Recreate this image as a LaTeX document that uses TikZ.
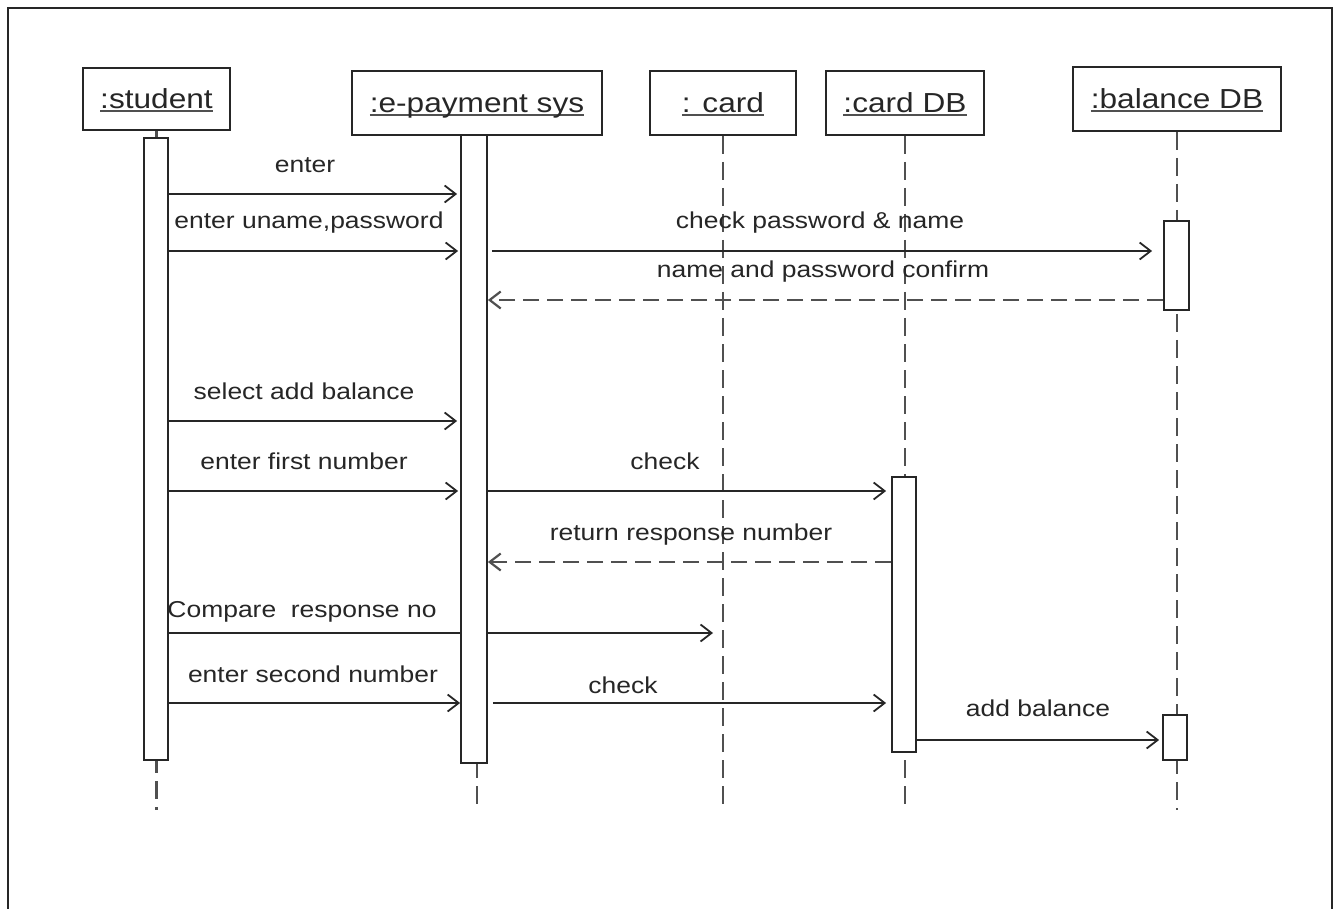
\documentclass[tikz,border=0pt]{standalone}
\usepackage{fontspec}
\setmainfont[FakeStretch=1.15]{Liberation Sans}
\usetikzlibrary{arrows.meta}
\definecolor{ink}{HTML}{262626}
\definecolor{dashink}{HTML}{505050}
% object name, underlined through the descenders
\newcommand\objname[1]{\setbox0=\hbox{#1}\rlap{\color{dashink}\rule[-4pt]{\wd0}{2pt}}\box0}
\pgfdeclarelayer{bg}
\pgfsetlayers{bg,main}
\begin{document}
\begin{tikzpicture}[x=1pt,y=-1pt,
  obj/.style={draw=ink, line width=2pt, inner sep=0pt, text height=22pt, text depth=3pt,
    font=\fontsize{27.5}{30}\selectfont, text=ink},
  act/.style={draw=ink, fill=white, line width=1.8pt, inner sep=0pt},
  lifeline/.style={draw=dashink, line width=2.4pt, dash pattern=on 18pt off 8pt},
  msg/.style={draw=ink, line width=1.8pt, -{Straight Barb[length=11pt,width=17pt]}},
  reply/.style={msg, draw=dashink, line width=2.2pt, dash pattern=on 16pt off 8pt},
  lbl/.style={anchor=base, text=ink, font=\fontsize{23}{26}\selectfont, inner sep=0pt}]
\useasboundingbox (0,0) rectangle (1336,909);

% outer frame
\draw[ink, line width=2.5pt] (8,909) -- (8,8) -- (1332,8) -- (1332,909);

% objects
\node[obj, minimum width=147pt, minimum height=62pt] (student) at (156.5,99) {\objname{:student}};
\node[obj, minimum width=250pt, minimum height=64pt] (epay) at (477,103) {\objname{:e-payment sys}};
\node[obj, minimum width=146pt, minimum height=64pt] (card) at (723,103) {\objname{: card}};
\node[obj, minimum width=158pt, minimum height=64pt] (cardDB) at (905,103) {\objname{:card DB}};
\node[obj, minimum width=208pt, minimum height=64pt] (balDB) at (1177,99) {\objname{:balance DB}};

% activation bars
\node[act, minimum width=24pt, minimum height=622pt] (actS) at (156,449) {};
\node[act, minimum width=26pt, minimum height=628pt] (actE) at (474,449) {};
\node[act, minimum width=25pt, minimum height=89pt] (actB1) at (1176.5,265.5) {};
\node[act, minimum width=24pt, minimum height=275pt] (actC) at (904,614.5) {};
\node[act, minimum width=24pt, minimum height=45pt] (actB2) at (1175,737.5) {};

% message rows
\coordinate (bottom) at (0,810);
\coordinate (m1) at (0,194);
\coordinate (m2) at (0,251);
\coordinate (m4) at (0,300);
\coordinate (m5) at (0,421);
\coordinate (m6) at (0,491);
\coordinate (m8) at (0,562);
\coordinate (m9) at (0,633);
\coordinate (m10) at (0,703);
\coordinate (m12) at (0,740);

% lifelines and the message that passes behind the e-payment bar
\begin{pgfonlayer}{bg}
\draw[lifeline] (student.south) -- (student.south |- bottom);
\draw[lifeline] (epay.south) -- (epay.south |- bottom);
\draw[lifeline] (card.south) -- (card.south |- bottom);
\draw[lifeline] (cardDB.south) -- (cardDB.south |- bottom);
\draw[lifeline] (balDB.south) -- (balDB.south |- bottom);
\draw[msg, shorten >=10pt] (actS.east |- m9) -- (card.south |- m9);
\end{pgfonlayer}

% messages
\draw[msg, shorten >=3pt] (actS.east |- m1) -- (actE.west |- m1);
\draw[msg, shorten >=2pt] (actS.east |- m2) -- (actE.west |- m2);
\draw[msg, shorten <=4pt, shorten >=11pt] (actE.east |- m2) -- (actB1.west |- m2);
\draw[reply] (actB1.west |- m4) -- (actE.east |- m4);
\draw[msg, shorten >=3pt] (actS.east |- m5) -- (actE.west |- m5);
\draw[msg, shorten >=2pt] (actS.east |- m6) -- (actE.west |- m6);
\draw[msg, shorten >=5pt] (actE.east |- m6) -- (actC.west |- m6);
\draw[reply] (actC.west |- m8) -- (actE.east |- m8);
\draw[msg] (actS.east |- m10) -- (actE.west |- m10);
\draw[msg, shorten <=5pt, shorten >=5pt] (actE.east |- m10) -- (actC.west |- m10);
\draw[msg, shorten >=3pt] (actC.east |- m12) -- (actB2.west |- m12);

% message labels
\node[lbl] (l1) at (305,173) {enter};
\node[lbl] (l2) at (309,229) {enter uname,password};
\node[lbl] (l3) at (820,229) {check password \& name};
\node[lbl] (l4) at (823,278) {name and password confirm};
\node[lbl] (l5) at (304,399) {select add balance};
\node[lbl] (l6) at (304,469) {enter first number};
\node[lbl] (l7) at (665,469) {check};
\node[lbl] (l8) at (691,540) {return response number};
\node[lbl] (l9) at (302,617) {Compare\ \ response no};
\node[lbl] (l10) at (313,682) {enter second number};
\node[lbl] (l11) at (623,693) {check};
\node[lbl] (l12) at (1038,716) {add balance};
\end{tikzpicture}
\end{document}
